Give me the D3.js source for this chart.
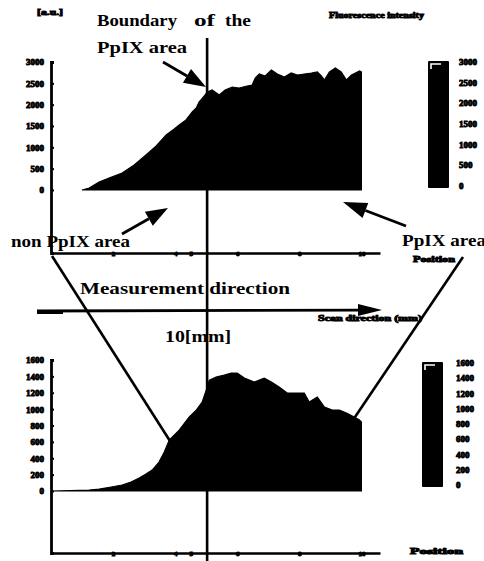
<!DOCTYPE html>
<html><head><meta charset="utf-8">
<script src="https://cdn.jsdelivr.net/npm/d3@7"></script>
<style>
html,body{margin:0;padding:0;background:#fff;}
svg{display:block;}
text{font-family:"Liberation Serif","Times New Roman",serif;font-weight:bold;fill:#000;}
</style></head>
<body>
<script>
// ---------- data ----------
const xTicks = [2, 4, 4.5, 6, 8, 10];
const topYTicks = [0, 500, 1000, 1500, 2000, 2500, 3000];
const botYTicks = [0, 200, 400, 600, 800, 1000, 1200, 1400, 1600];
const topPos = [1.0,1.23,1.55,1.87,2.29,2.68,3.06,3.39,3.71,3.97,4.13,4.35,4.55,4.68,4.77,4.94,5.03,5.19,5.42,5.61,5.84,6.06,6.32,6.48,6.58,6.71,6.90,7.10,7.29,7.52,7.74,7.94,8.16,8.39,8.58,8.71,8.81,8.97,9.16,9.35,9.52,9.68,9.81,9.94,10.0];
const topVal = [0,47,188,281,398,586,820,1031,1289,1430,1523,1641,1828,1922,2063,2203,2297,2344,2227,2344,2414,2391,2438,2461,2625,2719,2672,2813,2719,2649,2742,2696,2719,2742,2766,2672,2578,2766,2860,2766,2578,2696,2742,2789,2766];
const botPos = [0.03,1.23,1.55,1.94,2.29,2.58,2.84,3.06,3.26,3.48,3.65,3.81,4.13,4.45,4.68,4.87,5.0,5.1,5.32,5.58,5.81,6.0,6.23,6.55,6.87,7.1,7.35,7.61,7.94,8.16,8.32,8.58,8.81,9.06,9.29,9.52,9.77,9.94,10.0];
const botVal = [0,12,24,49,73,110,159,207,256,354,476,622,744,903,988,1086,1232,1354,1391,1415,1440,1440,1379,1330,1379,1330,1269,1196,1196,1196,1086,1147,1025,988,988,952,903,866,842];
const boundaryPos = 5.03;

// ---------- layout ----------
const W = 484, H = 561;
const svg = d3.select("body").append("svg").attr("width", W).attr("height", H);

const x = d3.scaleLinear().domain([0, 10.6]).range([51, 380]);
const yTop = d3.scaleLinear().domain([0, 3000]).range([190, 62]);
const yBot = d3.scaleLinear().domain([0, 1600]).range([491, 360]);

function blob(sel, size) {
  sel.attr("font-size", size).attr("font-family", "Liberation Sans").attr("font-weight", "bold")
     .attr("stroke", "#000").attr("stroke-width", 0.9).attr("fill", "#000");
}

function panel(yS, axisBottomY, pos, val, yTicks, cbX, cbY0, cbY1, cbLabelX) {
  const g = svg.append("g");
  const data = pos.map((p, i) => ({p, v: val[i]}));
  const area = d3.area().x(d => x(d.p)).y0(yS(0)).y1(d => yS(d.v)).curve(d3.curveLinear);
  g.append("path").datum(data).attr("d", area).attr("fill", "#000").attr("stroke", "#000").attr("stroke-width", 1.2);

  // y axis, extended down to the x axis
  const yExt = yS.copy().domain([yS.invert(axisBottomY), yS.domain()[1]]).range([axisBottomY, yS.range()[1]]);
  const ya = g.append("g").attr("transform", `translate(${x(0)},0)`)
    .call(d3.axisLeft(yExt).tickValues(yTicks).tickSize(-3).tickPadding(7).tickFormat(d3.format("d")));
  ya.select(".domain").attr("stroke-width", 2.8);
  ya.selectAll(".tick line").attr("stroke-width", 2);
  blob(ya.selectAll(".tick text"), 9);

  // x axis
  const xa = g.append("g").attr("transform", `translate(0,${axisBottomY})`)
    .call(d3.axisBottom(x).tickValues(xTicks).tickSize(0).tickPadding(0).tickSizeOuter(0));
  xa.select(".domain").attr("stroke-width", 2.4);
  blob(xa.selectAll(".tick text").attr("dy", "0.36em").attr("y", 0), 7);

  // colour bar
  g.append("rect").attr("x", cbX).attr("y", cbY0).attr("width", 21).attr("height", cbY1 - cbY0).attr("fill", "#000").attr("rx", 1);
  g.append("path").attr("d", `M${cbX+3},${cbY0+8} V${cbY0+3} H${cbX+13}`).attr("stroke", "#fff").attr("stroke-width", 1.6).attr("fill", "none");
  const cbScale = d3.scaleLinear().domain(d3.extent(yTicks)).range([cbY1 - 2, cbY0 + 1]);
  blob(g.selectAll("text.cb").data(yTicks).join("text").attr("class", "cb")
    .attr("x", cbLabelX).attr("y", d => cbScale(d)).attr("dy", "0.35em").text(d => d), 9);
  return g;
}

panel(yTop, 253, topPos, topVal, topYTicks, 428, 61, 188, 459);
panel(yBot, 553, botPos, botVal, botYTicks, 422, 362, 487, 456);

// ---------- annotation lines ----------
const ink = "#000";
svg.append("line").attr("x1", x(boundaryPos)).attr("x2", x(boundaryPos)).attr("y1", 38).attr("y2", 561)
  .attr("stroke", ink).attr("stroke-width", 2.6);
svg.append("line").attr("x1", 52).attr("y1", 256).attr("x2", 170).attr("y2", 441).attr("stroke", ink).attr("stroke-width", 2.6);
svg.append("line").attr("x1", 463).attr("y1", 257).attr("x2", 353).attr("y2", 420).attr("stroke", ink).attr("stroke-width", 2.6);

function arrow(x1, y1, x2, y2, len, half) {
  const a = Math.atan2(y2 - y1, x2 - x1);
  const bx = x2 - len * Math.cos(a), by = y2 - len * Math.sin(a);
  svg.append("line").attr("x1", x1).attr("y1", y1).attr("x2", bx).attr("y2", by)
    .attr("stroke", ink).attr("stroke-width", 2.8);
  const px = -Math.sin(a) * half, py = Math.cos(a) * half;
  svg.append("path").attr("d", `M${x2},${y2} L${bx+px},${by+py} L${bx-px},${by-py} Z`).attr("fill", ink);
}
arrow(163, 62, 206, 87, 22, 8);
arrow(122, 234, 168, 208, 22, 8);
arrow(406, 226, 343, 202, 24, 8);
arrow(37, 311, 382, 310, 24, 6);
svg.append("rect").attr("x", 37).attr("y", 310).attr("width", 26).attr("height", 4).attr("fill", ink);

// ---------- text ----------
function label(t, xx, yy, size, len) {
  const el = svg.append("text").attr("x", xx).attr("y", yy).attr("font-size", size).text(t);
  if (len) el.attr("textLength", len).attr("lengthAdjust", "spacingAndGlyphs");
  return el;
}
label("Boundary", 97, 26, 17, 80);
label("of", 194, 26, 17, 21);
label("the", 225, 26, 17, 26);
label("PpIX area", 97, 53, 17, 90);
label("non PpIX area", 11, 247, 17, 119);
label("PpIX area", 402, 246, 17, 84);
label("Measurement direction", 80, 294, 17, 210);
label("10[mm]", 165, 342, 16, 66);

// small blotted captions
function small(t, xx, yy, len) {
  blob(svg.append("text").attr("x", xx).attr("y", yy).attr("textLength", len)
    .attr("lengthAdjust", "spacingAndGlyphs").text(t), 8);
}
small("[a.u.]", 37, 15, 26);
small("Fluorescence intensity", 329, 18, 95);
small("Position", 413, 262, 42);
small("Scan direction (mm)", 318, 321, 104);
small("Position", 410, 554, 53);
</script>
</body></html>
